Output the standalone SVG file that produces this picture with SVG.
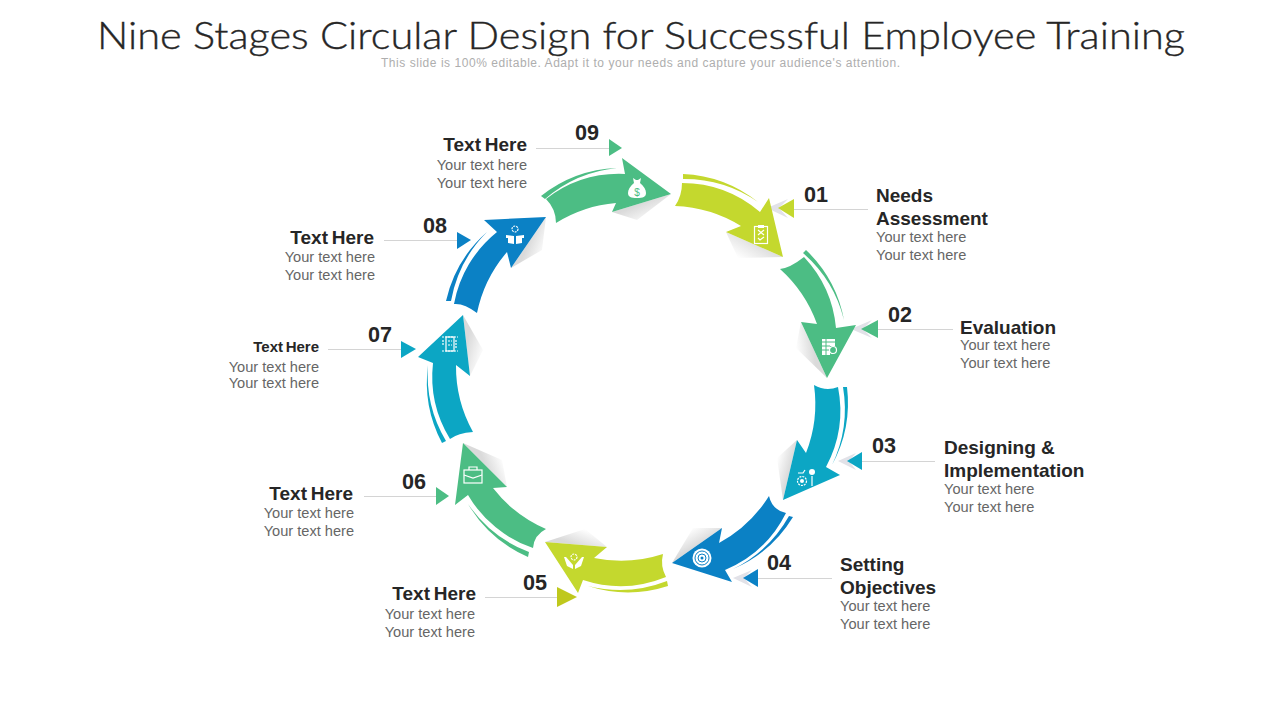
<svg xmlns="http://www.w3.org/2000/svg" width="1280" height="720" viewBox="0 0 1280 720">
<style>
text{font-family:"Liberation Sans",Arial,sans-serif}
.title{font-family:Lato,"Liberation Sans",sans-serif;font-weight:300;font-size:37px;fill:#262626;stroke:#262626;stroke-width:.35px}
.sub{font-size:12px;fill:#aeaeae}
.h{font-size:19px;font-weight:700;fill:#262626}
.tt{word-spacing:-1.500px}
.b{font-size:14.600px;fill:#666}
.n{font-size:21.600px;font-weight:700;fill:#262626}
.e{text-anchor:end}
.lime{fill:#c4d82e}.green{fill:#4cbd84}.teal{fill:#0ca6c4}.blue{fill:#0b81c5}
.lead{stroke:#d4d4d4;stroke-width:1;fill:none}
.ms{fill:#e2e2e8}
.ic{fill:none;stroke:#fff;stroke-width:1.200}
.if{fill:#fff}
</style>
<defs>
<linearGradient id="s1" gradientUnits="userSpaceOnUse" x1="758" y1="240" x2="745" y2="262"><stop offset="0" stop-color="#b5b5b5" stop-opacity=".5"/><stop offset="1" stop-color="#b5b5b5" stop-opacity="0"/></linearGradient>
<linearGradient id="s2" gradientUnits="userSpaceOnUse" x1="814" y1="350" x2="796" y2="352"><stop offset="0" stop-color="#b5b5b5" stop-opacity=".5"/><stop offset="1" stop-color="#b5b5b5" stop-opacity="0"/></linearGradient>
<linearGradient id="s3" gradientUnits="userSpaceOnUse" x1="790" y1="470" x2="775" y2="466"><stop offset="0" stop-color="#b5b5b5" stop-opacity=".5"/><stop offset="1" stop-color="#b5b5b5" stop-opacity="0"/></linearGradient>
<linearGradient id="s4" gradientUnits="userSpaceOnUse" x1="697" y1="546" x2="688" y2="530"><stop offset="0" stop-color="#b5b5b5" stop-opacity=".5"/><stop offset="1" stop-color="#b5b5b5" stop-opacity="0"/></linearGradient>
<linearGradient id="s5" gradientUnits="userSpaceOnUse" x1="576" y1="545" x2="582" y2="528"><stop offset="0" stop-color="#b5b5b5" stop-opacity=".5"/><stop offset="1" stop-color="#b5b5b5" stop-opacity="0"/></linearGradient>
<linearGradient id="s6" gradientUnits="userSpaceOnUse" x1="485" y1="465" x2="503" y2="458"><stop offset="0" stop-color="#b5b5b5" stop-opacity=".5"/><stop offset="1" stop-color="#b5b5b5" stop-opacity="0"/></linearGradient>
<linearGradient id="s7" gradientUnits="userSpaceOnUse" x1="466" y1="345" x2="485" y2="350"><stop offset="0" stop-color="#b5b5b5" stop-opacity=".5"/><stop offset="1" stop-color="#b5b5b5" stop-opacity="0"/></linearGradient>
<linearGradient id="s8" gradientUnits="userSpaceOnUse" x1="528" y1="243" x2="546" y2="250"><stop offset="0" stop-color="#b5b5b5" stop-opacity=".5"/><stop offset="1" stop-color="#b5b5b5" stop-opacity="0"/></linearGradient>
<linearGradient id="s9" gradientUnits="userSpaceOnUse" x1="642" y1="203" x2="650" y2="222"><stop offset="0" stop-color="#b5b5b5" stop-opacity=".5"/><stop offset="1" stop-color="#b5b5b5" stop-opacity="0"/></linearGradient>
</defs>
<rect width="1280" height="720" fill="#fff"/>
<g id="header">
<text class="title" x="97" y="49" textLength="1088" lengthAdjust="spacingAndGlyphs">Nine Stages Circular Design for Successful Employee Training</text>
<text class="sub" x="381" y="67" textLength="519">This slide is 100% editable. Adapt it to your needs and capture your audience's attention.</text>
</g>
<g id="connectors">
<path class="lead" d="M868 209.500H794M953 329.500H878M935 461.500H862M832 578.500H758M485 597.500H557M364 496.500H436M328 349.500H401M384 240.500H457M536 148.500H609"/>
<polygon class="ms" points="767,208 788,199 779,208 788,218"/>
<polygon class="ms" points="851,329 872,320 863,329 872,338"/>
<polygon class="ms" points="838,461 856,453 849,461 856,470"/>
<polygon class="ms" points="733,578 752,570 744,578 752,587"/>
<polygon class="lime" points="778,208 794,199 794,218"/>
<polygon class="green" points="861,329 878,320 878,338"/>
<polygon class="teal" points="847,461 862,452 862,470"/>
<polygon class="blue" points="743,578 758,569 758,587"/>
<polygon points="577,597 557,587 557,607" fill="#bfc81c"/>
<polygon class="green" points="449,496 436,487 436,505"/>
<polygon class="teal" points="416,349 401,341 401,358"/>
<polygon class="blue" points="471,240 457,232 457,249"/>
<polygon class="green" points="622,148 609,139 609,156"/>
</g>
<g id="stage-01">
<polygon points="726,232 783,257 738,258" fill="url(#s1)"/>
<path class="lime" d="M682 183A120 120 0 0 1 760 212L769 198L783 257L726 232L741 226A135 135 0 0 0 675 206Q682 196 682 183Z"/>
<path class="lime" d="M683 174A130 130 0 0 1 758 202A130 130 0 0 0 683 179Z"/>
<g transform="translate(761,235)"><rect class="ic" x="-6.500" y="-8.500" width="13" height="17"/><rect class="if" x="-3" y="-10" width="6" height="3"/><path class="ic" d="M-3-5L3 0M3-5L-3 0M-3 3L-1 5L3 2"/></g>
<text class="n" x="804" y="202">01</text>
<text class="h" x="876" y="202">Needs</text><text class="h" x="876" y="225">Assessment</text>
<text class="b" x="876" y="242">Your text here</text><text class="b" x="876" y="260">Your text here</text>
</g>
<g id="stage-02">
<polygon points="801,322 827,378 796,348" fill="url(#s2)"/>
<path class="green" d="M804 257A120 120 0 0 1 836 328L856 325L827 378L801 322L817 324A135 135 0 0 0 780 269Q790 268 804 257Z"/>
<path class="green" d="M806 250A130 130 0 0 1 844 320A130 130 0 0 0 803 253Z"/>
<g transform="translate(829,347)"><path class="if" d="M-7-8H6V-1H1V8H-7Z"/><path d="M-7-5H6M-7-1H1M-7 3H1M-3-8V8" stroke="#4cbd84" stroke-width="1"/><circle class="ic" cx="4" cy="3" r="3.500"/></g>
<text class="n" x="888" y="322">02</text>
<text class="h" x="960" y="334">Evaluation</text>
<text class="b" x="960" y="350">Your text here</text><text class="b" x="960" y="368">Your text here</text>
</g>
<g id="stage-03">
<polygon points="797,440 783,500 777,458" fill="url(#s3)"/>
<path class="teal" d="M838 387A120 120 0 0 1 826 467L840 475L783 500L797 440L806 453A135 135 0 0 0 814 385Q826 392 838 387Z"/>
<path class="teal" d="M847 387A130 130 0 0 1 832 465A130 130 0 0 0 843 387Z"/>
<g transform="translate(807,478)"><circle class="ic" cx="-5" cy="3" r="4.500" stroke-dasharray="2 1"/><circle class="if" cx="-5" cy="3" r="2"/><circle class="if" cx="5" cy="-6" r="3"/><path class="ic" d="M5-2V8M-9-5H-4L-2-8"/></g>
<text class="n" x="872" y="453">03</text>
<text class="h" x="944" y="454">Designing &amp;</text><text class="h" x="944" y="477">Implementation</text>
<text class="b" x="944" y="494">Your text here</text><text class="b" x="944" y="512">Your text here</text>
</g>
<g id="stage-04">
<polygon points="722,528 672,563 693,528" fill="url(#s4)"/>
<path class="blue" d="M786 513A120 120 0 0 1 725 570L732 582L672 563L722 528L719 543A135 135 0 0 0 769 496Q772 510 786 513Z"/>
<path class="blue" d="M793 517A130 130 0 0 1 733 569A130 130 0 0 0 789 516Z"/>
<g transform="translate(702,558)"><circle class="if" r="9.500"/><circle r="7" fill="none" stroke="#0b81c5" stroke-width="1"/><circle r="4" fill="none" stroke="#0b81c5" stroke-width="1"/><circle r="1.500" fill="#0b81c5"/></g>
<text class="n" x="767" y="570">04</text>
<text class="h" x="840" y="571">Setting</text><text class="h" x="840" y="594">Objectives</text>
<text class="b" x="840" y="611">Your text here</text><text class="b" x="840" y="629">Your text here</text>
</g>
<g id="stage-05">
<polygon points="607,547 545,542 585,529" fill="url(#s5)"/>
<path class="lime" d="M666 577A120 120 0 0 1 583 580L578 593L545 542L607 547L594 558A135 135 0 0 0 663 554Q660 566 666 577Z"/>
<path class="lime" d="M668 586A130 130 0 0 1 588 586A130 130 0 0 0 667 581Z"/>
<g transform="translate(574,560)"><circle class="ic" cy="-3" r="3" stroke-width="2" stroke-dasharray="2 1"/><path class="if" d="M-10-3L-8-3L-1 5V9L-7 6ZM10-3L8-3L1 5V9L7 6Z"/></g>
<text class="n" x="523" y="590">05</text>
<text class="h e tt" x="476" y="600">Text Here</text>
<text class="b e" x="475" y="619">Your text here</text><text class="b e" x="475" y="637">Your text here</text>
</g>
<g id="stage-06">
<polygon points="463,443 507,487 502,460" fill="url(#s6)"/>
<path class="green" d="M533 548A120 120 0 0 1 468 495L455 505L463 443L507 487L493 488A135 135 0 0 0 546 529Q534 535 533 548Z"/>
<path class="green" d="M528 557A130 130 0 0 1 468 504A130 130 0 0 0 529 552Z"/>
<g transform="translate(473,476)"><rect class="ic" x="-9" y="-6" width="18" height="13"/><path class="ic" d="M-4-6V-9H4V-6M-9-1L0 2L9-1"/></g>
<text class="n" x="402" y="489">06</text>
<text class="h e tt" x="353" y="500">Text Here</text>
<text class="b e" x="354" y="518">Your text here</text><text class="b e" x="354" y="536">Your text here</text>
</g>
<g id="stage-07">
<polygon points="463,315 470,376 483,350" fill="url(#s7)"/>
<path class="teal" d="M450 439A120 120 0 0 1 433 363L418 357L463 315L470 376L456 365A135 135 0 0 0 473 432Q458 433 450 439Z"/>
<path class="teal" d="M442 443A130 130 0 0 1 428 365A130 130 0 0 0 446 441Z"/>
<g transform="translate(450,343)"><rect class="ic" x="-4" y="-6" width="8" height="14"/><path class="ic" d="M-8-6H8M-8 8H8M-2-2H2M-2 2H2M6-3V6M-7-3V3" stroke-dasharray="2 1"/></g>
<text class="n" x="368" y="342">07</text>
<text class="e tt" x="319" y="352" font-size="15" font-weight="700" fill="#262626">Text Here</text>
<text class="b e" x="319" y="372">Your text here</text><text class="b e" x="319" y="388">Your text here</text>
</g>
<g id="stage-08">
<polygon points="546,217 511,268 542,250" fill="url(#s8)"/>
<path class="blue" d="M454 304A120 120 0 0 1 497 232L484 220L546 217L511 268L507 252A135 135 0 0 0 477 313Q464 303 454 304Z"/>
<path class="blue" d="M446 301A130 130 0 0 1 487 232A130 130 0 0 0 451 301Z"/>
<g transform="translate(515,236)"><circle class="ic" cy="-7" r="3" stroke-width="1.600" stroke-dasharray="2 1"/><path class="if" d="M-9-1L-1 0V8L-7 7V2L-9 2ZM9-1L1 0V8L7 7V2L9 2Z"/></g>
<text class="n" x="423" y="233">08</text>
<text class="h e tt" x="374" y="244">Text Here</text>
<text class="b e" x="375" y="262">Your text here</text><text class="b e" x="375" y="280">Your text here</text>
</g>
<g id="stage-09">
<polygon points="671,194 612,212 637,220" fill="url(#s9)"/>
<path class="green" d="M546 199A120 120 0 0 1 625 174L622 158L671 194L612 212L616 203A135 135 0 0 0 556 223Q556 209 546 199Z"/>
<path class="green" d="M541 196A130 130 0 0 1 617 168A130 130 0 0 0 545 199Z"/>
<g transform="translate(637,188)"><path class="if" d="M-4-10L-1-8H1L4-10L3-5C7-2 9 2 9 5C9 9 6 10 0 10S-9 9-9 5C-9 2-7-2-3-5Z"/><text x="0" y="8" text-anchor="middle" font-size="10" fill="#4cbd84">$</text></g>
<text class="n" x="575" y="140">09</text>
<text class="h e tt" x="527" y="151">Text Here</text>
<text class="b e" x="527" y="170">Your text here</text><text class="b e" x="527" y="188">Your text here</text>
</g>
</svg>
